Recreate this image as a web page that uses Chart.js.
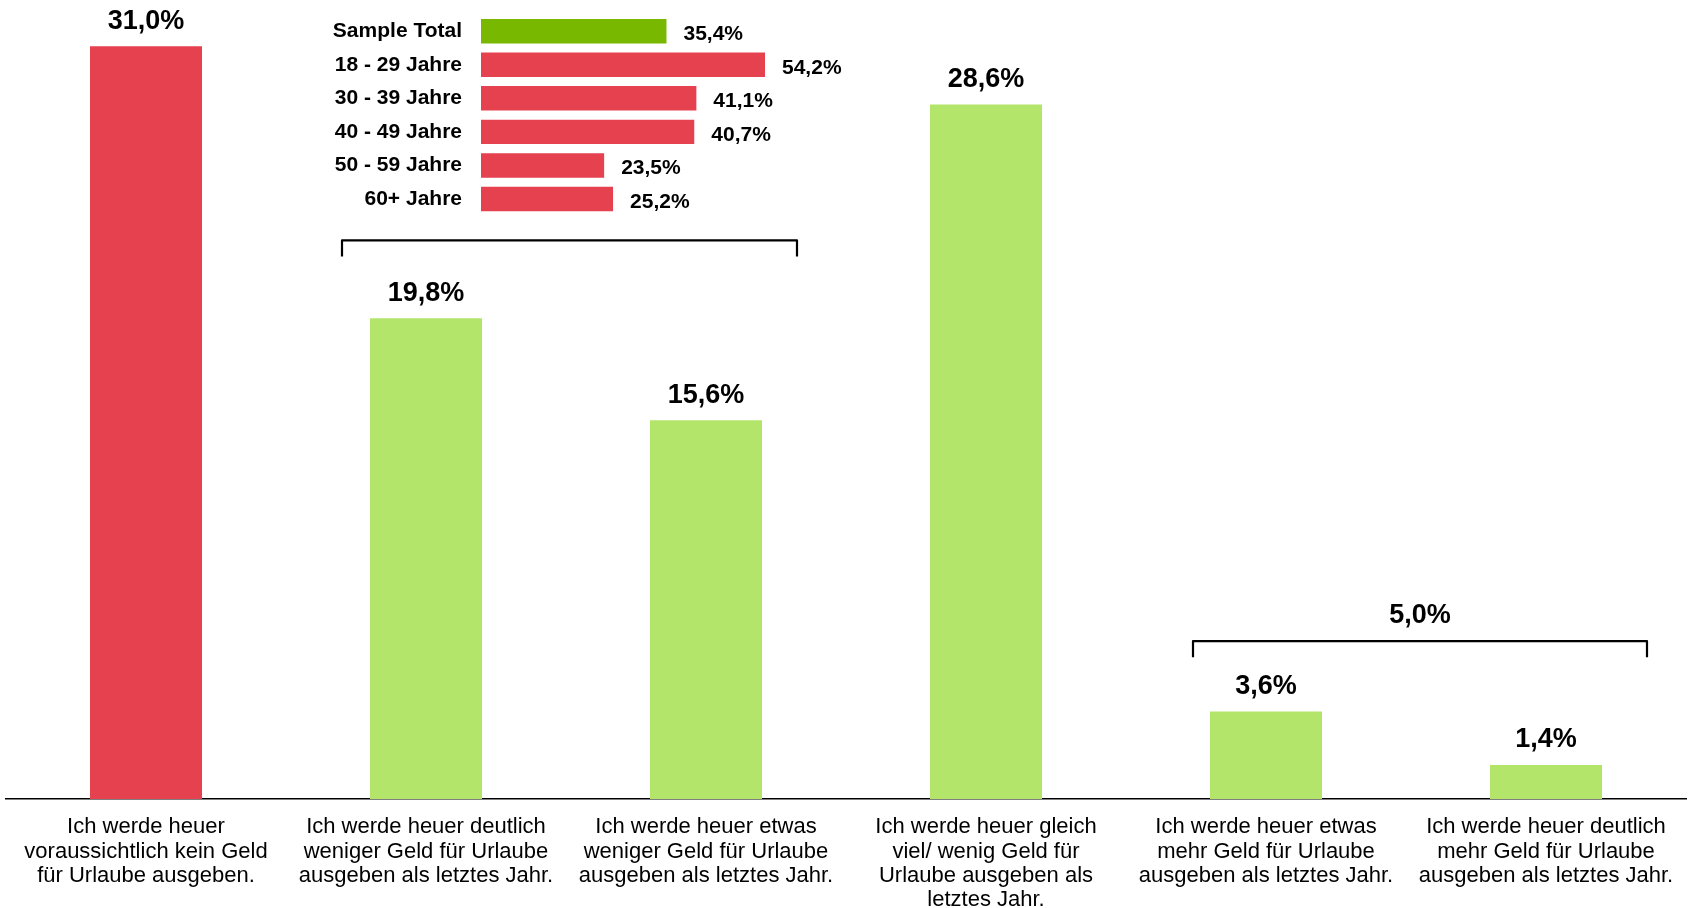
<!DOCTYPE html>
<html lang="de">
<head>
    <meta charset="UTF-8">
    <title>Urlaubsbudget heuer</title>
    <script src="https://cdn.jsdelivr.net/npm/chart.js"></script>
    <style>
        body { margin: 0; background: #fff; }
        #wrap { position: relative; width: 1694px; height: 908px; }
        #main { position: absolute; left: 0; top: 0; width: 1694px; height: 908px; }
        #inset { position: absolute; left: 300px; top: 0; width: 560px; height: 230px; }
    </style>
</head>
<body>
    <div id="wrap">
        <div id="main"><canvas id="mainChart"></canvas></div>
        <div id="inset"><canvas id="insetChart"></canvas></div>
    </div>
    <script>
        // main chart data
        const answers = [
            ['Ich werde heuer', 'voraussichtlich kein Geld', 'für Urlaube ausgeben.'],
            ['Ich werde heuer deutlich', 'weniger Geld für Urlaube', 'ausgeben als letztes Jahr.'],
            ['Ich werde heuer etwas', 'weniger Geld für Urlaube', 'ausgeben als letztes Jahr.'],
            ['Ich werde heuer gleich', 'viel/ wenig Geld für', 'Urlaube ausgeben als', 'letztes Jahr.'],
            ['Ich werde heuer etwas', 'mehr Geld für Urlaube', 'ausgeben als letztes Jahr.'],
            ['Ich werde heuer deutlich', 'mehr Geld für Urlaube', 'ausgeben als letztes Jahr.']
        ];
        const shares = [31.0, 19.8, 15.6, 28.6, 3.6, 1.4];
        const moreTotal = 5.0;

        // inset: "kein Geld" by age group
        const ageGroups = ['Sample Total', '18 - 29 Jahre', '30 - 39 Jahre', '40 - 49 Jahre', '50 - 59 Jahre', '60+ Jahre'];
        const ageShares = [35.4, 54.2, 41.1, 40.7, 23.5, 25.2];

        const RED = '#E6414F';
        const LIGHT_GREEN = '#B3E56B';
        const DARK_GREEN = '#78B800';
        const FONT = '"Liberation Sans", Arial, sans-serif';

        const fmt = v => v.toFixed(1).replace('.', ',') + '%';

        // brackets over groups of bars (value = height on y scale)
        const brackets = [
            {from: 1, to: 2, value: 23.0, leftOff: -84, rightOff: 91, label: null},
            {from: 4, to: 5, value: 6.5, leftOff: -73, rightOff: 101, label: fmt(moreTotal)}
        ];

        const mainLabels = {
            id: 'mainLabels',
            afterDatasetsDraw(chart) {
                const ctx = chart.ctx;
                const meta = chart.getDatasetMeta(0);
                const xs = chart.scales.x, ys = chart.scales.y;
                ctx.save();
                ctx.fillStyle = '#000';
                ctx.font = 'bold 27px ' + FONT;
                ctx.textAlign = 'center';
                ctx.textBaseline = 'middle';
                meta.data.forEach((bar, i) => {
                    ctx.fillText(fmt(shares[i]), bar.x, bar.y - 25);
                });

                ctx.strokeStyle = '#000';
                ctx.lineWidth = 2.2;
                ctx.lineJoin = 'round';
                brackets.forEach(b => {
                    const x1 = xs.getPixelForValue(b.from) + b.leftOff;
                    const x2 = xs.getPixelForValue(b.to) + b.rightOff;
                    const y = ys.getPixelForValue(b.value);
                    ctx.beginPath();
                    ctx.moveTo(x1, y + 16);
                    ctx.lineTo(x1, y);
                    ctx.lineTo(x2, y);
                    ctx.lineTo(x2, y + 16);
                    ctx.stroke();
                    if (b.label) ctx.fillText(b.label, (x1 + x2) / 2, y - 26);
                });
                ctx.restore();
            }
        };

        new Chart(document.getElementById('mainChart'), {
            type: 'bar',
            data: {
                labels: answers,
                datasets: [{
                    data: shares,
                    backgroundColor: shares.map((v, i) => i === 0 ? RED : LIGHT_GREEN),
                    categoryPercentage: 1,
                    barPercentage: 0.4
                }]
            },
            options: {
                responsive: true,
                maintainAspectRatio: false,
                animation: false,
                layout: {padding: {left: 6, right: 8, top: 0, bottom: 0}},
                plugins: {legend: {display: false}, tooltip: {enabled: false}},
                scales: {
                    x: {
                        grid: {display: false, drawTicks: false},
                        border: {display: true, color: '#000', width: 1.5},
                        ticks: {
                            color: '#000',
                            font: {family: FONT, size: 22, lineHeight: 1.105},
                            padding: 16,
                            maxRotation: 0,
                            autoSkip: false
                        },
                        afterFit: s => { s.height = 109; }
                    },
                    y: {display: false, min: 0, max: 32.9}
                }
            },
            plugins: [mainLabels]
        });

        const insetLabels = {
            id: 'insetLabels',
            afterDatasetsDraw(chart) {
                const ctx = chart.ctx;
                const meta = chart.getDatasetMeta(0);
                ctx.save();
                ctx.fillStyle = '#000';
                ctx.font = 'bold 21px ' + FONT;
                ctx.textAlign = 'left';
                ctx.textBaseline = 'middle';
                meta.data.forEach((bar, i) => {
                    ctx.fillText(fmt(ageShares[i]), bar.x + 17, bar.y + 3);
                });
                ctx.restore();
            }
        };

        new Chart(document.getElementById('insetChart'), {
            type: 'bar',
            data: {
                labels: ageGroups,
                datasets: [{
                    data: ageShares,
                    backgroundColor: ageShares.map((v, i) => i === 0 ? DARK_GREEN : RED),
                    categoryPercentage: 1,
                    barPercentage: 0.73
                }]
            },
            options: {
                indexAxis: 'y',
                responsive: true,
                maintainAspectRatio: false,
                animation: false,
                layout: {padding: {left: 0, right: 64.6, top: 14.5, bottom: 14.3}},
                plugins: {legend: {display: false}, tooltip: {enabled: false}},
                scales: {
                    x: {display: false, min: 0, max: 60},
                    y: {
                        grid: {display: false, drawTicks: false},
                        border: {display: false},
                        ticks: {
                            color: '#000',
                            font: {family: FONT, size: 21, weight: 'bold'},
                            padding: 19
                        },
                        afterFit: s => {
                            s.width = 181;
                            s.paddingTop = 0;
                            s.paddingBottom = 0;
                        }
                    }
                }
            },
            plugins: [insetLabels]
        });
    </script>
</body>
</html>
